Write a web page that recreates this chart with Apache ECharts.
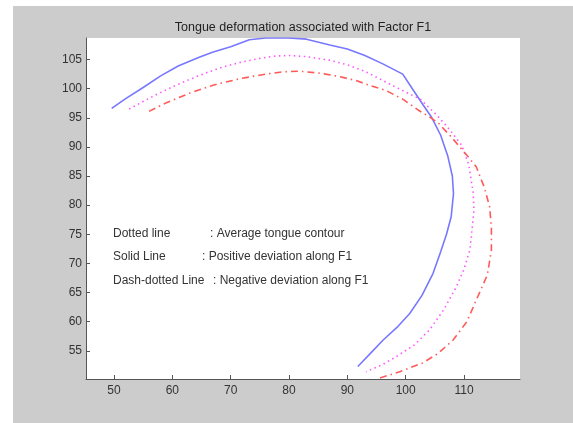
<!DOCTYPE html>
<html>
<head>
<meta charset="utf-8">
<script src="https://cdn.jsdelivr.net/npm/echarts@6/dist/echarts.min.js"></script>
<style>
  html, body { margin: 0; padding: 0; background: #fff; }
  #chart { position: absolute; left: 13px; top: 6px; width: 560px; height: 417px; background: #cccccc; }
</style>
</head>
<body>
<div id="chart"></div>
<script>
// Tongue deformation, factor F1

var xTicks = [50, 60, 70, 80, 90, 100, 110];
var yTicks = [55, 60, 65, 70, 75, 80, 85, 90, 95, 100, 105];

// solid line: positive deviation along F1
var positive = [
    [49.6, 96.6], [52, 98.3], [55, 100.2], [58, 102.2], [61, 103.9], [64.6, 105.4],
    [67, 106.3], [70, 107.2], [73.2, 108.4], [76, 108.7], [80, 108.7], [83, 108.5],
    [87, 107.5], [90, 106.8], [93, 105.7], [96, 104.3], [99.5, 102.5], [101.2, 99.9],
    [103, 97.2], [104.5, 95], [106, 92], [107.2, 88.5], [108, 85], [108.2, 82],
    [107.8, 78], [107, 75], [106, 72], [104.7, 68.3], [102.8, 64.5], [100.7, 61.4],
    [98.5, 59], [96.1, 56.8], [94, 54.6], [91.8, 52.3]
];

// dotted line: average tongue contour
var average = [
    [52.6, 96.5], [55, 97.8], [57.5, 99.1], [60, 100.3], [63, 101.6], [66, 102.8],
    [68.6, 103.7], [72, 104.6], [75, 105.2], [77.7, 105.6], [80, 105.7], [83, 105.5],
    [86.9, 104.9], [90, 104.1], [93, 103], [96.1, 101.4], [99, 99.9], [102.5, 98.2],
    [105.4, 95.4], [107.5, 93], [109.6, 90.3], [110.8, 87], [111.6, 82], [111.7, 79],
    [111.3, 75], [111, 72.3], [110, 69], [108.7, 66], [106.5, 62], [104.1, 58.6],
    [101.5, 56], [98.4, 54], [96, 52.6], [93.2, 51.4]
];

// dash-dotted line: negative deviation along F1
var negative = [
    [56, 96.1], [59, 97.6], [62.9, 99.2], [67, 100.6], [71.5, 101.7], [76, 102.5],
    [79, 102.9], [81.8, 103.0], [85, 102.7], [88, 102.2], [91.5, 101.4], [94, 100.5],
    [96.6, 99.7], [99.5, 98.2], [102.2, 96.3], [104, 95.2], [105.6, 94.1], [108, 91.5],
    [110.8, 88.2], [112.1, 86.6], [113.5, 83], [114.4, 79.7], [114.7, 76], [114.7, 72.3],
    [114, 68], [112.1, 63.7], [110.5, 60], [108.1, 56.8], [105.5, 54.5], [102.9, 52.9],
    [99, 51.4], [95.5, 50.3]
];

var noteLabels = ['Dotted line', 'Solid Line', 'Dash-dotted Line'];
var noteTexts = [': Average tongue contour', ': Positive deviation along F1', ': Negative deviation along F1'];

var font = 'Liberation Sans, Arial, sans-serif';
var textColor = '#333';

function axisStyle(ticks) {
    return {
        axisLine: { show: true, lineStyle: { color: '#555', width: 1 } },
        axisTick: { show: true, inside: true, length: 4, customValues: ticks, lineStyle: { color: '#555' } },
        axisLabel: { customValues: ticks, color: textColor, fontSize: 12, fontFamily: font },
        splitLine: { show: false }
    };
}

var xAxis = Object.assign({ type: 'value', min: 45.2, max: 119.6 }, axisStyle(xTicks));
xAxis.axisLabel.margin = 6;
var yAxis = Object.assign({ type: 'value', min: 50.15, max: 108.7 }, axisStyle(yTicks));
yAxis.axisLabel.margin = 4;

var notes = [];
var noteX = [100, 100, 100];
var colonX = [197, 189, 200];
var noteY = [229, 252, 276];
noteLabels.forEach(function (t, i) {
    notes.push({ type: 'text', left: noteX[i], top: noteY[i] - 7,
        style: { text: t, fill: textColor, font: '12px ' + font } });
    notes.push({ type: 'text', left: colonX[i], top: noteY[i] - 7,
        style: { text: noteTexts[i], fill: textColor, font: '12px ' + font } });
});

var chart = echarts.init(document.getElementById('chart'));
chart.setOption({
    animation: false,
    backgroundColor: '#cccccc',
    title: {
        text: 'Tongue deformation associated with Factor F1',
        left: 285, top: 10, textAlign: 'center',
        textStyle: { color: '#222', fontSize: 12.5, fontWeight: 'normal', fontFamily: font }
    },
    grid: { left: 73, top: 32, width: 434, height: 341, show: true, backgroundColor: '#fff', borderWidth: 0 },
    xAxis: xAxis,
    yAxis: yAxis,
    graphic: notes,
    series: [
        {
            name: 'Positive', type: 'line', data: positive, showSymbol: false,
            lineStyle: { color: '#7878ff', width: 1.6, type: 'solid' }
        },
        {
            name: 'Average', type: 'line', data: average, showSymbol: false,
            lineStyle: { color: '#ff55ff', width: 1.6, type: [1.5, 3.5] }
        },
        {
            name: 'Negative', type: 'line', data: negative, showSymbol: false,
            lineStyle: { color: '#ff5a5a', width: 1.6, type: [7, 4, 1.5, 4] }
        }
    ]
});
</script>
</body>
</html>
